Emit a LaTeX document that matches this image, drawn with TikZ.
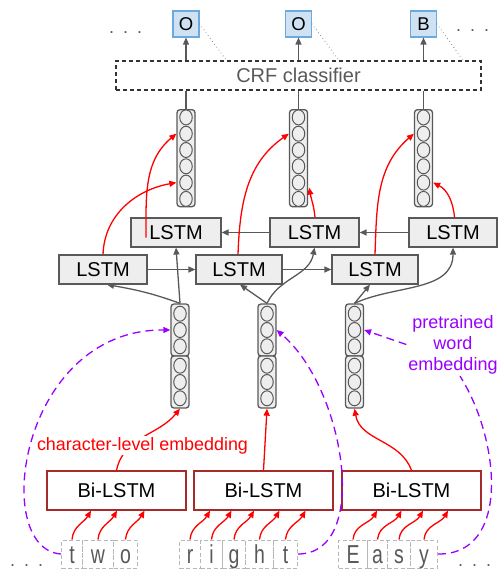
\documentclass[tikz,border=0pt]{standalone}
\usepackage{fontspec}
\setmainfont{Liberation Sans}
\usepackage{graphicx}
\usetikzlibrary{arrows.meta,shapes.geometric,calc}
\definecolor{lgray}{HTML}{EEEEEE}
\definecolor{dgray}{HTML}{595959}
\definecolor{bluefill}{HTML}{CFE2F3}
\definecolor{blueline}{HTML}{6FA8DC}
\definecolor{myred}{HTML}{FF0000}
\definecolor{mypurple}{HTML}{9900FF}
\definecolor{bired}{HTML}{A52A2A}
\definecolor{charline}{HTML}{B7B7B7}
\newcommand{\threedots}{.\hspace{9pt}.\hspace{9pt}.}
\newcommand{\sixvec}[2]{%
  \node[vecbox, minimum height=97pt, anchor=north] (#1) at (#2,-109) {};
  \foreach \k in {1,...,6}{\node[unitc] (#1c\k) at ($(#1.center)+(0,{-(\k-3.5)*16.3})$) {};}
}
\newcommand{\embvec}[2]{%
  \node[vecbox, minimum height=52pt] (#1) at (#2,-330) {};
  \node[vecbox, minimum height=52pt] (#1b) at (#2,-382) {};
  \foreach \k in {1,2,3}{\node[unitc] (#1c\k) at ($(#1.center)+(0,{-(\k-2)*16.3})$) {};}
  \foreach \k in {4,5,6}{\node[unitc] (#1c\k) at ($(#1b.center)+(0,{-(\k-5)*16.3})$) {};}
}
\newcommand{\chrbox}[4]{%
  \node[chr, minimum width=#3pt, anchor=west] (#1) at (#2,-554) {\scalebox{1}[1.33]{#4}};
}
\begin{document}
\begin{tikzpicture}[x=1pt,y=1pt,
  every node/.style={inner sep=0pt},
  outbox/.style={draw=blueline, fill=bluefill, line width=1.1pt, minimum width=26pt, minimum height=26pt, font=\fontsize{18.5}{20}\selectfont},
  crfbox/.style={draw=black!80, dash pattern=on 4pt off 3pt, line width=1.2pt, minimum width=365pt, minimum height=29pt, text=dgray, font=\fontsize{20}{22}\selectfont},
  lstmbox/.style={draw=dgray, fill=lgray, line width=1.2pt, minimum height=29pt, font=\fontsize{20}{22}\selectfont},
  bibox/.style={draw=bired, fill=white, line width=1.3pt, minimum width=139pt, minimum height=39pt, font=\fontsize{20}{22}\selectfont},
  vecbox/.style={draw=dgray, fill=lgray, line width=1.3pt, rounded corners=3pt, minimum width=18pt},
  unitc/.style={ellipse, draw=dgray, fill=lgray, line width=1pt, minimum width=12.5pt, minimum height=15pt},
  chr/.style={draw=charline, dash pattern=on 4pt off 2.5pt, line width=1pt, text=dgray, minimum height=28pt, text height=23pt, text depth=5pt, font=\fontsize{19.5}{21}\selectfont},
  dotsty/.style={text=dgray, font=\fontsize{18}{20}\selectfont},
  garrow/.style={draw=dgray, line width=1.3pt, -{Triangle[length=7pt,width=6pt]}},
  gline/.style={draw=dgray, line width=1.3pt},
  rarrow/.style={draw=myred, line width=1.3pt, -{Triangle[length=7pt,width=6pt]}},
  parrow/.style={draw=mypurple, line width=1.3pt, dash pattern=on 8pt off 5pt, -{Triangle[length=7pt,width=6pt]}},
  pline/.style={draw=mypurple, line width=1.3pt, dash pattern=on 8pt off 5pt},
  dotline/.style={draw=dgray!80, line width=1pt, dash pattern=on 0.1pt off 3.5pt, line cap=round}
]
\useasboundingbox (0,0) rectangle (499,-570);

% outputs and CRF
\node[outbox] (o1) at (186,-24) {O};
\node[outbox] (o2) at (298.5,-24) {O};
\node[outbox] (o3) at (423.5,-24) {B};
\node[crfbox] (crf) at (298.5,-75.5) {CRF classifier};
\node[dotsty, anchor=base west] (dtl) at (109,-33) {\threedots};
\node[dotsty, anchor=base west] (dtr) at (456,-31) {\threedots};

% top vectors
\sixvec{t1}{186}
\sixvec{t2}{298.5}
\sixvec{t3}{423.5}

% LSTM layers
\node[lstmbox, minimum width=90pt] (b1) at (176,-232.5) {LSTM};
\node[lstmbox, minimum width=89pt] (b2) at (314.5,-232.5) {LSTM};
\node[lstmbox, minimum width=88pt] (b3) at (453,-232.5) {LSTM};
\node[lstmbox, minimum width=88pt] (f1) at (103,-269.5) {LSTM};
\node[lstmbox, minimum width=86pt] (f2) at (239,-269.5) {LSTM};
\node[lstmbox, minimum width=86pt] (f3) at (375,-269.5) {LSTM};

% embedding vectors
\embvec{e1}{180}
\embvec{e2}{267}
\embvec{e3}{354.5}

% Bi-LSTMs
\node[bibox] (L1) at (116.5,-490.5) {Bi-LSTM};
\node[bibox] (L2) at (263.5,-490.5) {Bi-LSTM};
\node[bibox] (L3) at (411.5,-490.5) {Bi-LSTM};

% characters
\chrbox{c1}{61}{21}{t}
\chrbox{c2}{82}{31}{w}
\chrbox{c3}{113}{24}{o}
\chrbox{c4}{179}{21}{r}
\chrbox{c5}{200}{22}{i}
\chrbox{c6}{222}{23}{g}
\chrbox{c7}{245}{28}{h}
\chrbox{c8}{273}{24}{t}
\chrbox{c9}{338}{29}{E}
\chrbox{c10}{367}{20}{a}
\chrbox{c11}{387}{23}{s}
\chrbox{c12}{410}{27}{y}
\node[dotsty, anchor=base west] (dbl) at (10,-566) {\threedots};
\node[dotsty, anchor=base west] (dbr) at (458,-566) {\threedots};

% word embedding label
\node[font=\fontsize{18}{21}\selectfont, text=mypurple, align=center, inner sep=2pt] (pw) at (453,-344.5) {pretrained\\word\\embedding};

% gray connectors
\draw[garrow] (o1 |- crf.north) -- (o1.south);
\draw[garrow] (o2 |- crf.north) -- (o2.south);
\draw[garrow] (o3 |- crf.north) -- (o3.south);
\draw[gline] (t1.north) -- (t1 |- crf.south);
\draw[gline] (t2.north) -- (t2 |- crf.south);
\draw[gline] (t3.north) -- (t3 |- crf.south);
\draw[dotline] (o1.east) -- ($(o1.east |- crf.north)+(27,0)$);
\draw[dotline] (o2.east) -- ($(o2.east |- crf.north)+(27,0)$);
\draw[dotline] (o3.east) -- ($(o3.east |- crf.north)+(26,0)$);
\draw[garrow] (f1.east) -- (f2.west);
\draw[garrow] (f2.east) -- (f3.west);
\draw[garrow] (b3.west) -- (b2.east);
\draw[garrow] (b2.west) -- (b1.east);
\draw[garrow] (e1.north) to[out=160,in=-10] ([xshift=4pt]f1.south);
\draw[garrow] (e1.north) -- (b1.south);
\draw[garrow] (e2.north) -- ([xshift=1pt]f2.south);
\draw[garrow] (e2.north) to[out=65,in=-100] (b2.south);
\draw[garrow] (e3.north) -- ([xshift=-5pt]f3.south);
\draw[garrow] (e3.north) to[out=25,in=-90] (b3.south);

% red connectors (LSTM to output vectors)
\draw[rarrow] (f1.north) to[out=88,in=190] (t1.west |- t1c5);
\draw[rarrow] ([xshift=-30pt,yshift=-5pt]b1.center) to[out=90,in=220] (t1.west |- t1c2);
\draw[rarrow] ([xshift=-1pt]f2.north) to[out=88,in=215] (t2.west |- t2c2);
\draw[rarrow] ([xshift=0.5pt]b2.north) to[out=95,in=-80] ($(t2.east |- t2c5)+(1,-5)$);
\draw[rarrow] (f3.north) to[out=88,in=221] (t3.west |- t3c2);
\draw[rarrow] ([xshift=1.5pt]b3.north) to[out=95,in=-27] (t3.east |- t3c5);

% red connectors (Bi-LSTM to embeddings)
\draw[rarrow] (L1.north) to[out=78,in=-129] (e1b.south);
\draw[rarrow] (L2.north) -- (e2b.south);
\draw[rarrow] (L3.north) to[out=110,in=-80] (e3b.south);
\node[font=\fontsize{17.9}{20}\selectfont, text=myred, fill=white, inner sep=1pt] (cle) at (142.5,-445.5) {character-level embedding};

% red connectors (characters to Bi-LSTMs)
\foreach \c in {c1,c2,c3}{\draw[rarrow] (\c.north) to[out=85,in=-120] ($(L1.south -| \c.north)+(19,0)$);}
\foreach \c in {c4,c5,c6,c7,c8}{\draw[rarrow] (\c.north) to[out=85,in=-120] ($(L2.south -| \c.north)+(20,0)$);}
\foreach \c in {c9,c10,c11,c12}{\draw[rarrow] (\c.north) to[out=85,in=-120] ($(L3.south -| \c.north)+(24,0)$);}

% purple word-embedding connectors
\draw[parrow] (c1.west) .. controls +(-71,5) and +(-151,1) .. (e1.west |- e1c2);
\draw[parrow] (c8.east) .. controls +(73,0) and +(69,-59) .. (e2.east |- e2c2);
\draw[pline] (c12.east) .. controls +(73,-1) and +(40,-63) .. ([xshift=7pt]pw.south);
\draw[parrow] (pw.west) -- (e3.east |- e3c2);
\end{tikzpicture}
\end{document}
